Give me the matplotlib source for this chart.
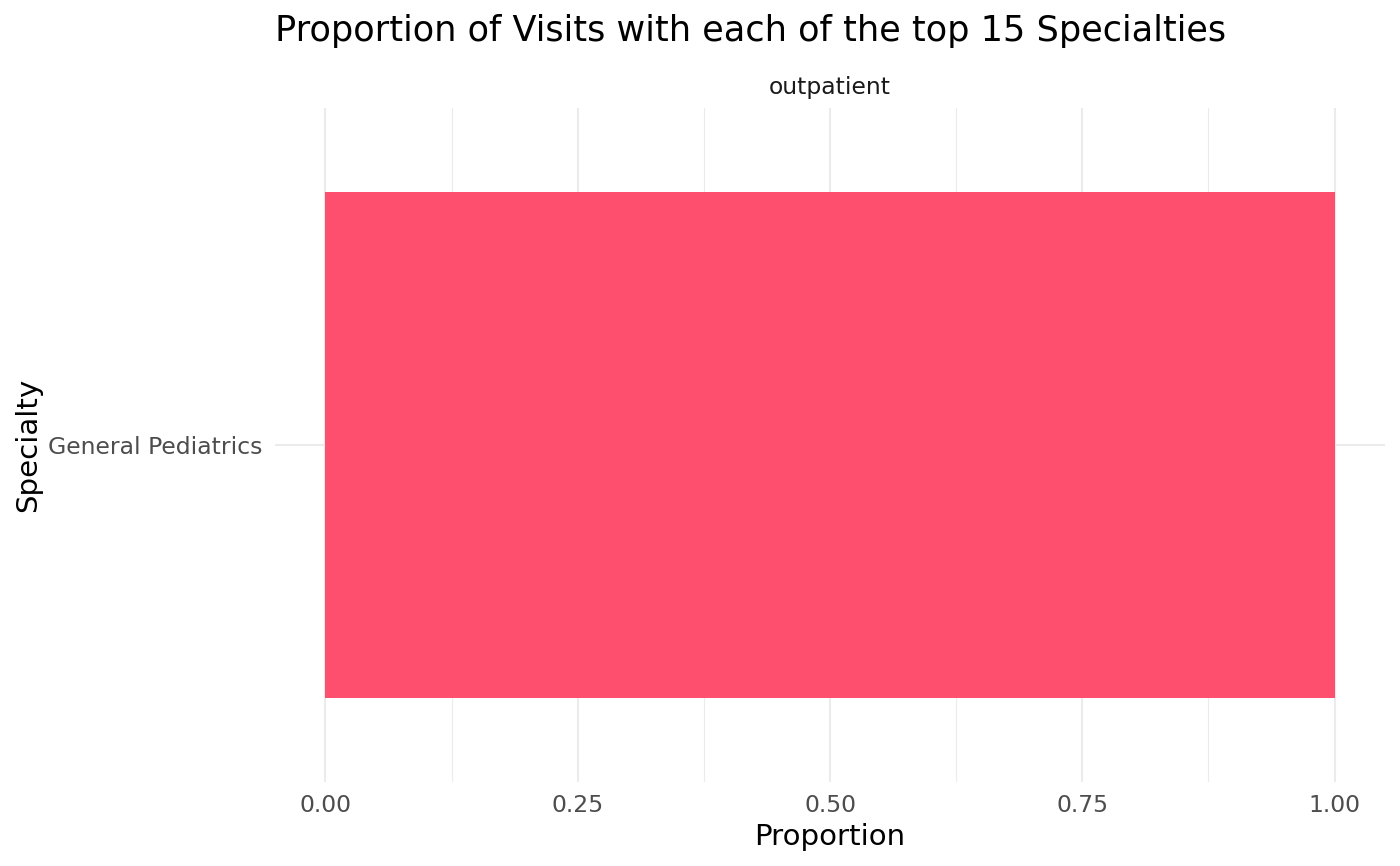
import numpy as np
import matplotlib.pyplot as plt
from matplotlib.ticker import MultipleLocator

specialties = ['General Pediatrics']
proportions = [1.0]
facet_label = 'outpatient'
x_ticks = [0.0, 0.25, 0.5, 0.75, 1.0]
x_tick_labels = ['0.00', '0.25', '0.50', '0.75', '1.00']

bar_color = '#FF4F6E'
grid_color = '#EBEBEB'

fig = plt.figure(figsize=(14, 8.66), dpi=100)
ax = fig.add_axes([275 / 1400, 1 - 782 / 866, 1110 / 1400, 674 / 866])

y_pos = np.arange(len(specialties))
ax.barh(y_pos, proportions, height=0.9, color=bar_color, zorder=2)

ax.set_xlim(-0.05, 1.05)
ax.set_ylim(-0.6, len(specialties) - 0.4)
ax.set_xticks(x_ticks)
ax.set_xticklabels(x_tick_labels)
ax.xaxis.set_minor_locator(MultipleLocator(0.125))
ax.set_yticks(y_pos)
ax.set_yticklabels(specialties)

ax.grid(True, which='major', color=grid_color, linewidth=1.5, zorder=0)
ax.grid(True, which='minor', axis='x', color=grid_color, linewidth=0.8, zorder=0)
ax.set_axisbelow(True)
for s in ax.spines.values():
    s.set_visible(False)
ax.tick_params(axis='both', which='both', length=0, labelsize=16.9, labelcolor='#4D4D4D')
ax.tick_params(axis='x', pad=9)
ax.tick_params(axis='y', pad=9)

ax.set_xlabel('Proportion', fontsize=21.1, color='black', labelpad=4)
ax.set_ylabel('Specialty', fontsize=21.1, color='black', labelpad=4)

ax.text(0.5, 1.013, facet_label, transform=ax.transAxes, ha='center', va='bottom',
        fontsize=16.9, color='#1A1A1A')
fig.text(275 / 1400, 1 - 31 / 866, 'Proportion of Visits with each of the top 15 Specialties',
         ha='left', va='center', fontsize=25.3, color='black')

fig.savefig('out.png', dpi=100, facecolor='white')
